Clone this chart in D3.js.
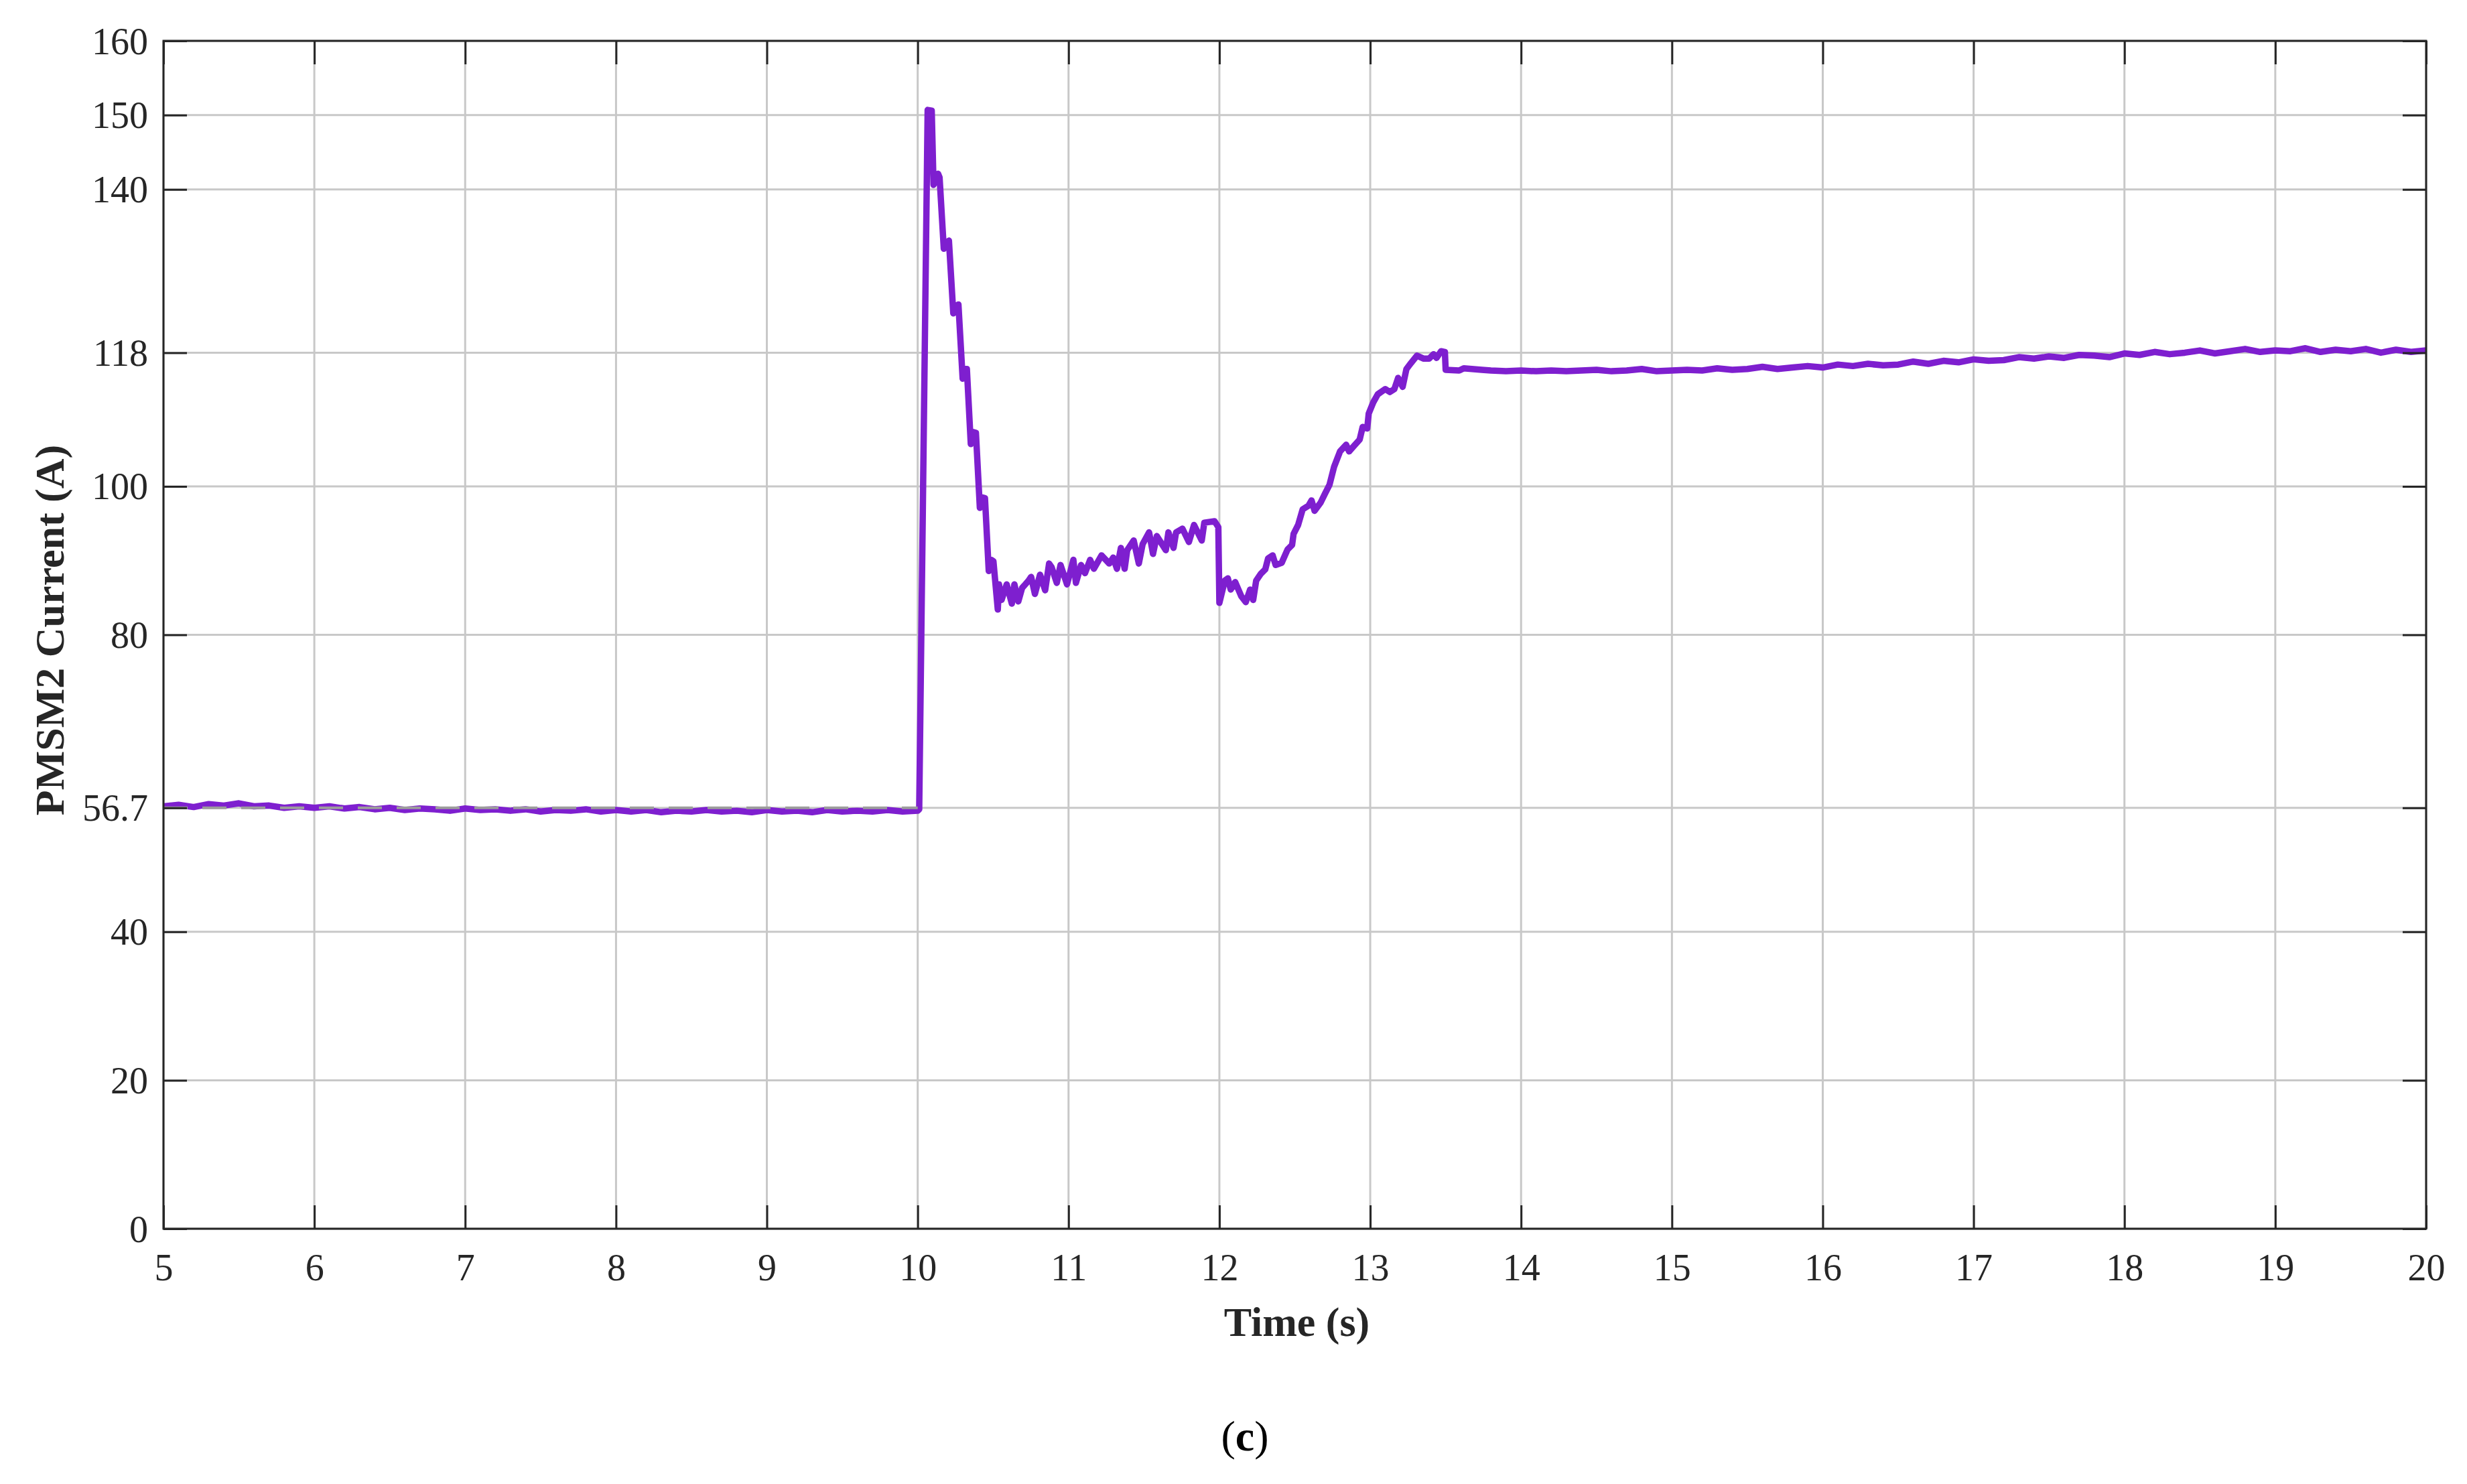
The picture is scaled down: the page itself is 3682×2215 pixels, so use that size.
<!DOCTYPE html>
<html>
<head>
<meta charset="utf-8">
<script src="https://cdn.jsdelivr.net/npm/d3@7/dist/d3.min.js"></script>
<style>
  html, body { margin: 0; padding: 0; background: #ffffff; }
  svg { display: block; }
  text { font-family: "Liberation Serif", "Times New Roman", serif; fill: #262626; }
</style>
</head>
<body>
<svg id="chart" width="3682" height="2215"></svg>
<script>
// ---------------- data ----------------
const xTicks = [5, 6, 7, 8, 9, 10, 11, 12, 13, 14, 15, 16, 17, 18, 19, 20];
const yTicks = [0, 20, 40, 56.7, 80, 100, 118, 140, 150, 160];
const yTickLabels = ["0", "20", "40", "56.7", "80", "100", "118", "140", "150", "160"];

const refTime = [5, 10];
const refCurrent = [56.7, 56.7];

const timeS = [
  5.0, 5.1, 5.2, 5.3, 5.4, 5.5, 5.6, 5.7, 5.8, 5.9,
  6.0, 6.1, 6.2, 6.3, 6.4, 6.5, 6.6, 6.7, 6.8, 6.9,
  7.0, 7.1, 7.2, 7.3, 7.4, 7.5, 7.6, 7.7, 7.8, 7.9,
  8.0, 8.1, 8.2, 8.3, 8.4, 8.5, 8.6, 8.7, 8.8, 8.9,
  9.0, 9.1, 9.2, 9.3, 9.4, 9.5, 9.6, 9.7, 9.8, 9.9,
  10.0, 10.01,
  10.066, 10.093, 10.105, 10.12, 10.135, 10.145,
  10.173, 10.19, 10.207,
  10.236, 10.255, 10.27,
  10.298, 10.313, 10.326,
  10.352, 10.37, 10.386,
  10.412, 10.43, 10.446,
  10.471, 10.487, 10.502,
  10.531, 10.539, 10.556, 10.590, 10.624, 10.641, 10.667, 10.692, 10.735, 10.752,
  10.777, 10.811, 10.845, 10.871, 10.888, 10.922, 10.947, 10.990, 11.032, 11.049,
  11.083, 11.109, 11.143, 11.168, 11.219, 11.270, 11.296, 11.321, 11.347, 11.372,
  11.389, 11.432, 11.466, 11.491, 11.534, 11.560, 11.585, 11.645, 11.662, 11.696,
  11.713, 11.755, 11.798, 11.832, 11.883, 11.900, 11.968, 11.993,
  12.0, 12.036, 12.056, 12.075, 12.105, 12.145, 12.175, 12.204, 12.224, 12.244,
  12.274, 12.304, 12.323, 12.353, 12.373, 12.413, 12.452, 12.482, 12.492, 12.522,
  12.552, 12.591, 12.611, 12.631, 12.671, 12.700,
  12.73, 12.76, 12.80, 12.84, 12.86, 12.89, 12.93, 12.95, 12.98, 12.99,
  13.02, 13.05, 13.10, 13.13, 13.16, 13.185, 13.215, 13.24, 13.27, 13.31,
  13.355, 13.39, 13.42, 13.44, 13.47, 13.495, 13.50, 13.59, 13.62, 13.74,
  13.8, 13.9, 14.0, 14.1, 14.2, 14.3, 14.4, 14.5, 14.6, 14.7,
  14.8, 14.9, 15.0, 15.1, 15.2, 15.3, 15.4, 15.5, 15.6, 15.7,
  15.8, 15.9, 16.0, 16.1, 16.2, 16.3, 16.4, 16.5, 16.6, 16.7,
  16.8, 16.9, 17.0, 17.1, 17.2, 17.3, 17.4, 17.5, 17.6, 17.7,
  17.8, 17.9, 18.0, 18.1, 18.2, 18.3, 18.4, 18.5, 18.6, 18.7,
  18.8, 18.9, 19.0, 19.1, 19.2, 19.3, 19.4, 19.5, 19.6, 19.7,
  19.8, 19.9, 20.0
];

const currentA = [
  56.9, 57.1, 56.8, 57.2, 57.0, 57.3, 56.9, 57.0, 56.7, 56.9,
  56.7, 56.9, 56.6, 56.8, 56.5, 56.7, 56.4, 56.6, 56.5, 56.3,
  56.6, 56.4, 56.5, 56.3, 56.5, 56.2, 56.4, 56.3, 56.5, 56.2,
  56.4, 56.2, 56.4, 56.1, 56.3, 56.2, 56.4, 56.2, 56.3, 56.1,
  56.4, 56.2, 56.3, 56.1, 56.4, 56.2, 56.3, 56.2, 56.4, 56.2,
  56.3, 56.5,
  150.7, 150.6, 140.6, 141.3, 142.1, 141.6,
  132.0, 132.6, 133.1,
  123.3, 124.2, 124.5,
  114.5, 115.8, 115.8,
  105.7, 107.3, 107.2,
  97.1, 98.5, 98.4,
  88.6, 90.1, 89.9,
  83.4, 86.8, 84.7, 86.8, 84.2, 86.8, 84.5, 86.3, 87.3, 87.8,
  85.5, 88.1, 86.0, 89.6, 89.1, 87.0, 89.4, 86.8, 90.1, 87.0,
  89.4, 88.3, 90.1, 88.9, 90.7, 89.6, 90.4, 88.9, 91.7, 88.9,
  91.4, 92.7, 89.6, 92.2, 93.8, 90.9, 93.3, 91.4, 93.8, 91.7,
  93.8, 94.3, 92.5, 94.8, 92.7, 95.1, 95.3, 94.5,
  84.3, 87.3, 87.6, 86.1, 87.1, 85.2, 84.4, 86.1, 84.7, 87.3,
  88.2, 88.8, 90.3, 90.7, 89.4, 89.7, 91.5, 92.1, 93.6, 94.8,
  96.9, 97.4, 98.1, 96.7, 97.8, 99.0,
  100.2, 102.6, 104.7, 105.6, 104.7, 105.4, 106.3, 108.0, 107.8, 109.8,
  111.3, 112.4, 113.1, 112.7, 113.1, 114.6, 113.4, 115.8, 116.6, 117.6,
  117.2, 117.2, 117.8, 117.3, 118.2, 118.1, 115.7, 115.6, 115.9, 115.7,
  115.6, 115.5, 115.6, 115.5, 115.6, 115.5, 115.6, 115.7, 115.5, 115.6,
  115.8, 115.5, 115.6, 115.7, 115.6, 115.9, 115.7, 115.8, 116.1, 115.8,
  116.0, 116.2, 116.0, 116.4, 116.2, 116.5, 116.3, 116.4, 116.8, 116.5,
  116.9, 116.7, 117.1, 116.9, 117.0, 117.4, 117.2, 117.5, 117.3, 117.7,
  117.6, 117.4, 117.9, 117.7, 118.1, 117.8, 118.0, 118.3, 117.9, 118.2,
  118.5, 118.1, 118.3, 118.2, 118.6, 118.1, 118.4, 118.2, 118.5, 118.0,
  118.4, 118.1, 118.3
];

// ---------------- layout ----------------
const W = 3682, H = 2215;
const plot = { left: 244, right: 3621, top: 61, bottom: 1834 };
const axisColor = "#262626";
const gridColor = "#c8c8c8";
const lineColor = "#7e1fcf";

const svg = d3.select("#chart");
svg.append("rect").attr("width", W).attr("height", H).attr("fill", "#fff");

const x = d3.scaleLinear().domain([5, 20]).range([plot.left, plot.right]);
const y = d3.scaleLinear().domain([0, 160]).range([plot.bottom, plot.top]);

// grid
const grid = svg.append("g").attr("class", "grid");
grid.selectAll("line.v").data(xTicks).join("line")
  .attr("class", "v")
  .attr("x1", d => x(d)).attr("x2", d => x(d))
  .attr("y1", plot.top).attr("y2", plot.bottom)
  .attr("stroke", gridColor).attr("stroke-width", 3);
grid.selectAll("line.h").data(yTicks).join("line")
  .attr("class", "h")
  .attr("x1", plot.left).attr("x2", plot.right)
  .attr("y1", d => y(d)).attr("y2", d => y(d))
  .attr("stroke", gridColor).attr("stroke-width", 3);

// clip
svg.append("clipPath").attr("id", "clip").append("rect")
  .attr("x", plot.left).attr("y", plot.top)
  .attr("width", plot.right - plot.left).attr("height", plot.bottom - plot.top);

// data line
const pts = timeS.map((t, i) => [t, currentA[i]]);
const line = d3.line().x(d => x(d[0])).y(d => y(d[1]));
svg.append("path")
  .datum(pts)
  .attr("clip-path", "url(#clip)")
  .attr("fill", "none")
  .attr("stroke", lineColor)
  .attr("stroke-width", 9.5)
  .attr("stroke-linejoin", "round")
  .attr("stroke-linecap", "round")
  .attr("d", line);

// reference dashed line
const refPts = refTime.map((t, i) => [t, refCurrent[i]]);
svg.append("path")
  .datum(refPts)
  .attr("fill", "none")
  .attr("stroke", "#9c9c9c")
  .attr("stroke-width", 4)
  .attr("stroke-dasharray", "36,22")
  .attr("d", line);

// axes
const tickLen = 35;
const fmtY = d => yTickLabels[yTicks.indexOf(d)];

const gLeft = svg.append("g").attr("transform", `translate(${plot.left},0)`)
  .call(d3.axisLeft(y).tickValues(yTicks).tickFormat(fmtY).tickSize(-tickLen).tickSizeOuter(0).tickPadding(23));
const gBottom = svg.append("g").attr("transform", `translate(0,${plot.bottom})`)
  .call(d3.axisBottom(x).tickValues(xTicks).tickFormat(d3.format("d")).tickSize(-tickLen).tickSizeOuter(0).tickPadding(37));
const gRight = svg.append("g").attr("transform", `translate(${plot.right},0)`)
  .call(d3.axisRight(y).tickValues(yTicks).tickFormat("").tickSize(-tickLen).tickSizeOuter(0));
const gTop = svg.append("g").attr("transform", `translate(0,${plot.top})`)
  .call(d3.axisTop(x).tickValues(xTicks).tickFormat("").tickSize(-tickLen).tickSizeOuter(0));

[gLeft, gBottom, gRight, gTop].forEach(g => {
  g.select(".domain").remove();
  g.selectAll(".tick line").attr("stroke", axisColor).attr("stroke-width", 3);
  g.selectAll(".tick text")
    .attr("fill", axisColor)
    .style("font-family", '"Liberation Serif", "Times New Roman", serif')
    .style("font-size", "56px");
});
gLeft.selectAll(".tick text").attr("dy", "0.34em");

// box
svg.append("rect")
  .attr("x", plot.left).attr("y", plot.top)
  .attr("width", plot.right - plot.left).attr("height", plot.bottom - plot.top)
  .attr("fill", "none").attr("stroke", axisColor).attr("stroke-width", 3);

// axis titles
svg.append("text")
  .attr("x", (plot.left + plot.right) / 2 + 3)
  .attr("y", 1994)
  .attr("text-anchor", "middle")
  .style("font-size", "62px").style("font-weight", "bold")
  .text("Time (s)");

svg.append("text")
  .attr("transform", `translate(95,${(plot.top + plot.bottom) / 2 - 7}) rotate(-90)`)
  .attr("text-anchor", "middle")
  .style("font-size", "62px").style("font-weight", "bold")
  .text("PMSM2 Current (A)");

// panel label
const cap = svg.append("text")
  .attr("x", 1858).attr("y", 2165)
  .attr("text-anchor", "middle")
  .style("font-size", "64px")
  .attr("fill", "#000");
cap.append("tspan").text("(").attr("fill", "#000");
cap.append("tspan").text("c").style("font-weight", "bold").attr("fill", "#000");
cap.append("tspan").text(")").attr("fill", "#000");
</script>
</body>
</html>
